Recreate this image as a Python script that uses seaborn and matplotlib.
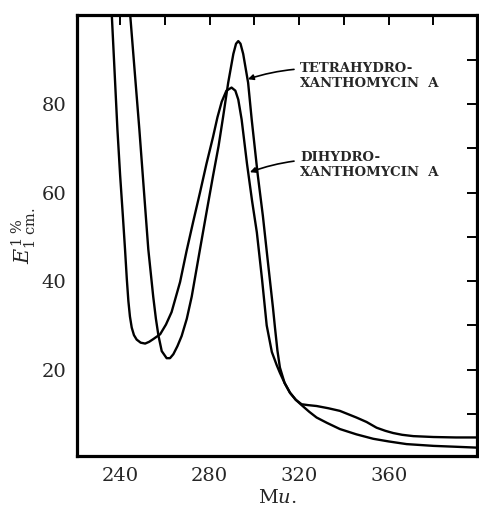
import pandas as pd
import matplotlib
matplotlib.use('Agg')
import matplotlib.pyplot as plt
import seaborn as sns

# absorption spectra
dihydro_x = [235.8, 236.3, 237.5, 238.8, 240.0, 241.2, 242.2, 243.0, 243.7, 244.4,
             245.2, 246.2, 247.4, 249.2, 251.2, 253.0, 254.8, 257.9, 260.5, 263.0,
             266.8, 269.7, 272.7, 275.7, 278.6, 281.5, 283.5, 285.4, 287.5, 289.8,
             291.5, 292.8, 294.3, 296.7, 299.0, 301.1, 303.4, 305.5, 307.8, 310.0,
             311.4, 313.5, 315.9, 318.5, 321.1, 324.5, 327.8, 332.4, 338.2, 345.6,
             353.1, 360.0, 368.0, 380.0, 390.0, 399.5]
dihydro_y = [103.0, 100.0, 87.7, 74.3, 64.0, 55.0, 47.2, 40.5, 35.5, 32.0,
             29.5, 27.8, 26.8, 26.1, 25.9, 26.3, 26.9, 28.0, 30.2, 33.0,
             39.8, 46.8, 53.5, 60.0, 66.5, 72.5, 77.0, 80.5, 83.0, 83.7,
             83.0, 81.0, 76.5, 66.5, 58.0, 51.0, 40.5, 30.0, 24.0, 21.0,
             19.3, 17.0, 14.8, 13.2, 12.0, 10.5, 9.2, 8.0, 6.6, 5.4,
             4.4, 3.8, 3.2, 2.8, 2.6, 2.4]

tetrahydro_x = [243.8, 244.5, 246.5, 248.6, 250.5, 252.6, 254.8, 256.0, 257.1, 258.6,
                260.8, 262.3, 263.8, 265.6, 267.5, 269.8, 272.0, 275.7, 278.6, 281.5,
                284.0, 286.0, 288.3, 290.6, 291.8, 292.8, 293.8, 295.0, 297.2, 298.8,
                301.5, 303.8, 306.0, 308.3, 309.2, 310.3, 311.4, 313.5, 315.9, 318.5,
                321.1, 324.0, 327.8, 333.0, 338.2, 345.6, 350.1, 354.6, 358.5, 362.0,
                366.0, 371.0, 380.0, 390.0, 399.5]
tetrahydro_y = [104.0, 100.2, 87.5, 74.3, 61.4, 47.2, 36.5, 31.5, 27.8, 24.2,
                22.6, 22.6, 23.5, 25.3, 27.6, 31.5, 36.5, 47.2, 55.5, 63.7,
                70.5, 77.0, 84.8, 91.3, 93.6, 94.2, 93.6, 91.3, 84.8, 76.5,
                64.0, 54.7, 44.5, 34.0, 29.5, 24.3, 20.5, 17.0, 14.8, 13.2,
                12.2, 12.0, 11.8, 11.3, 10.7, 9.2, 8.2, 6.9, 6.2, 5.7,
                5.3, 5.0, 4.8, 4.7, 4.7]

x_major = [240, 280, 320, 360]
x_minor = [260, 300, 340, 380]
y_major = [20, 40, 60, 80]
y_minor = [10, 30, 50, 70, 90]

df = pd.concat([
    pd.DataFrame({'wl': dihydro_x, 'E': dihydro_y, 'compound': 'dihydro'}),
    pd.DataFrame({'wl': tetrahydro_x, 'E': tetrahydro_y, 'compound': 'tetrahydro'}),
])

sns.set_style('white')
plt.rcParams['font.family'] = ['DejaVu Serif']
plt.rcParams['mathtext.fontset'] = 'dejavuserif'

fig = plt.figure(figsize=(4.79, 5.13), dpi=100)
ax = fig.add_axes([0.161, 0.111, 0.835, 0.859])

sns.lineplot(data=df, x='wl', y='E', hue='compound', units='compound',
             estimator=None, sort=False, palette=['black', 'black'],
             linewidth=1.7, legend=False, ax=ax)

ax.set_xlim(220.8, 399.5)
ax.set_ylim(0.5, 100)

ax.set_xticks(x_major)
ax.set_xticks(x_minor, minor=True)
ax.set_yticks(y_major)
ax.set_yticks(y_minor, minor=True)
ax.tick_params(which='both', direction='in', top=True, right=True,
               length=7, width=1.4, color='black', labelsize=14, pad=8)

for s in ax.spines.values():
    s.set_linewidth(2.3)
    s.set_color('black')

ax.set_xlabel('M$\\mathit{u}$.', fontsize=14, labelpad=3)
ax.set_ylabel('$E^{1\\ \\%}_{1\\ \\mathrm{cm.}}$', fontsize=15, labelpad=2)

ax.annotate('TETRAHYDRO-\nXANTHOMYCIN  A', xy=(297.1, 85.6), xytext=(320.4, 86.3),
            ha='left', va='center', fontsize=9.5, fontweight='bold', linespacing=1.25,
            arrowprops=dict(arrowstyle='-|>', color='black', lw=1.2, mutation_scale=8,
                            shrinkA=2, shrinkB=0,
                            connectionstyle='arc3,rad=0.15'))
ax.annotate('DIHYDRO-\nXANTHOMYCIN  A', xy=(298.0, 64.6), xytext=(320.4, 66.2),
            ha='left', va='center', fontsize=9.5, fontweight='bold', linespacing=1.25,
            arrowprops=dict(arrowstyle='-|>', color='black', lw=1.2, mutation_scale=8,
                            shrinkA=2, shrinkB=0,
                            connectionstyle='arc3,rad=0.15'))

fig.savefig('out.png', dpi=100)
